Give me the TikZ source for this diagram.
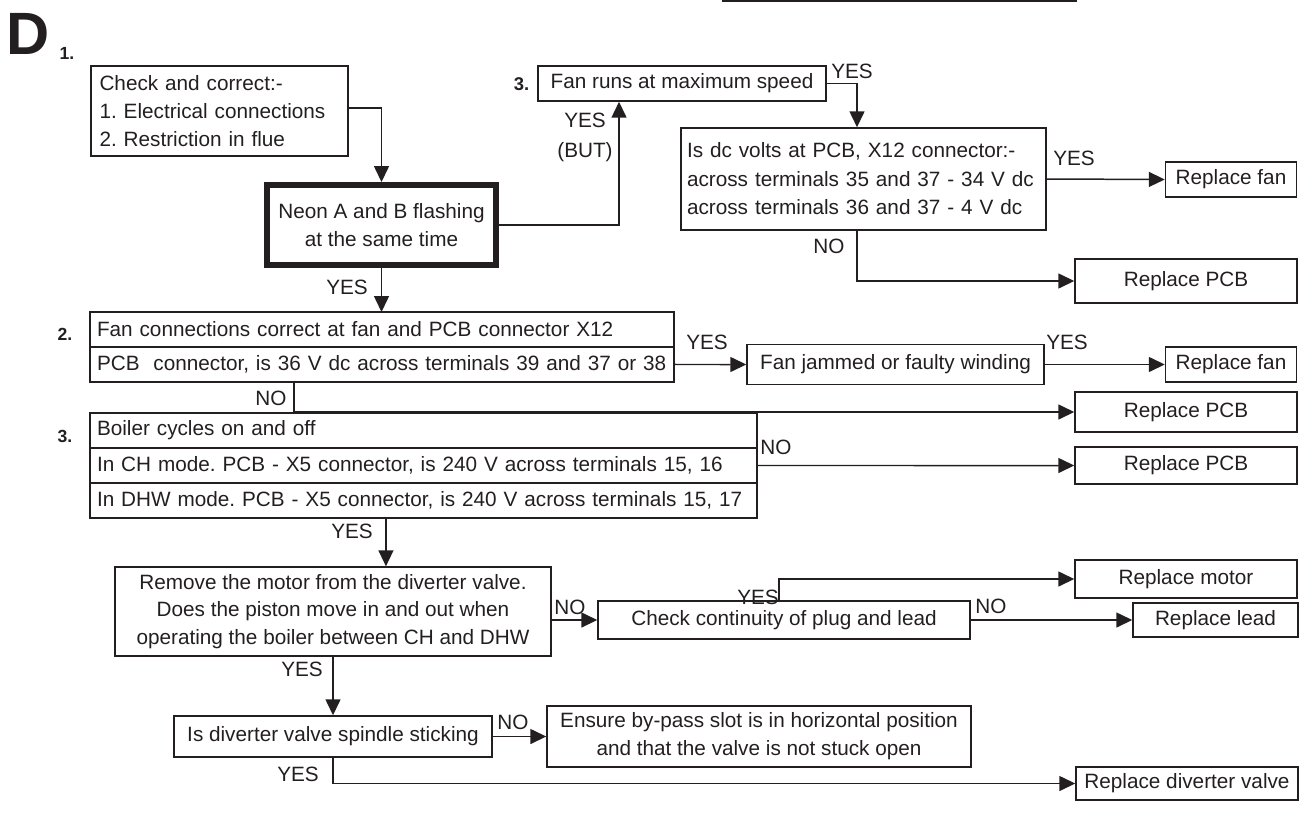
\documentclass[tikz,border=0pt]{standalone}
\usepackage{fontspec}
\setmainfont{Liberation Sans}
\usepackage{tikz}
\usetikzlibrary{
  arrows.meta,
  positioning
}
\definecolor{flowInk}{RGB}{35,31,32}
\newcommand{\flowText}{\frenchspacing\fontsize{11.8}{16}\selectfont}
\tikzset{
  flowBox/.style={
    draw=flowInk,
    line width=0.85pt,
    inner sep=0pt,
    align=center,
    text=flowInk,
    font=\flowText
  },
  flowRow/.style={
    flowBox,
    align=left,
    text width=#1,
    inner xsep=0.14cm,
    minimum height=0.7cm,
    outer sep=0pt
  },
  flowNeon/.style={
    flowBox,
    line width=3.4pt,
    minimum width=4.58cm,
    minimum height=1.6cm
  },
  flowArrow/.style={
    -{Triangle[length=0.32cm,width=0.3cm]},
    line width=0.85pt,
    draw=flowInk
  },
  flowTag/.style={
    inner sep=0pt,
    text=flowInk,
    font=\flowText
  },
  flowNum/.style={
    inner sep=0pt,
    text=flowInk,
    font=\bfseries\fontsize{10}{12}\selectfont
  }
}

\begin{document}
\begin{tikzpicture}[x=0.02cm, y=-0.02cm]
  \useasboundingbox (0,0) rectangle (1301,832);
  \draw[line width=0.85pt, flowInk] (722,1) -- (1077,1);

  \node[flowTag, font=\bfseries\fontsize{34}{34}\selectfont] (secD) at (28,33.5) {D};
  \node[flowNum] (numOne) at (67,53.5) {1.};

  % part 1
  \node[flowBox, align=left, text width=4.8cm, inner xsep=0.17cm,
    minimum height=1.8cm, font=\frenchspacing\fontsize{11.8}{15.9}\selectfont]
    (chkConn) at (219.5,111)
    {Check and correct:-\\1. Electrical connections\\2. Restriction in flue};
  \node[flowNeon] (neonAB) at (381.5,225) {Neon A and B flashing\\at the same time};
  \node[flowBox, minimum width=5.76cm, minimum height=0.7cm]
    (fanMax) at (682,83.5) {Fan runs at maximum speed};
  \node[flowNum, font=\bfseries\fontsize{10.5}{12}\selectfont] (numFan) at (521.5,84) {3.};
  \node[flowBox, align=left, text width=7.06cm, inner xsep=0.12cm,
    minimum height=2.04cm, font=\frenchspacing\fontsize{11.8}{16.2}\selectfont]
    (dcVolts) at (863.5,179)
    {Is dc volts at PCB, X12 connector:-\\across terminals 35 and 37 - 34 V dc\\across terminals 36 and 37 - 4 V dc};
  \node[flowBox, minimum width=2.62cm, minimum height=0.7cm]
    (fanNewA) at (1231,179.5) {Replace fan};
  \node[flowBox, minimum width=4.44cm, minimum height=0.88cm]
    (pcbNewA) at (1186,281) {Replace PCB};

  \draw[flowArrow] ([yshift=0.06cm]chkConn.east) -| (neonAB.north);
  \draw[flowArrow] (neonAB.east) -| ([xshift=-1.26cm]fanMax.south);
  \draw[flowArrow] (fanMax.east) -| ([xshift=-0.13cm]dcVolts.north);
  \draw[flowArrow] (dcVolts.east) -- (fanNewA.west);
  \draw[flowArrow] ([xshift=-0.13cm]dcVolts.south) |- (pcbNewA.west);

  \node[flowTag, align=center, font=\fontsize{11.8}{17}\selectfont] (tagBut) at (585,137) {YES\\(BUT)};
  \node[flowTag] (tagFanYes) at (852,71) {YES};
  \node[flowTag] (tagDcYes) at (1074,158) {YES};
  \node[flowTag] (tagDcNo) at (829,246) {NO};
  \node[flowTag] (tagNeonYes) at (347,287) {YES};

  % part 2
  \node[flowNum] (numTwo) at (65,334) {2.};
  \node[flowRow=11.4cm, anchor=north west]
    (fanConn) at (90,312) {Fan connections correct at fan and PCB connector X12};
  \node[flowRow=11.4cm, below=0pt of fanConn]
    (pcbVolt) {PCB~ connector, is 36 V dc across terminals 39 and 37 or 38};
  \node[flowBox, minimum width=5.94cm, minimum height=0.8cm]
    (fanJam) at (895.5,364.5) {Fan jammed or faulty winding};
  \node[flowBox, minimum width=2.62cm, minimum height=0.7cm]
    (fanNewB) at (1231,364.5) {Replace fan};
  \node[flowBox, minimum width=4.44cm, minimum height=0.8cm]
    (pcbNewB) at (1186,412) {Replace PCB};

  \draw[flowArrow] (neonAB.south) -- (neonAB.south |- fanConn.north);
  \draw[flowArrow] (pcbVolt.east) -- (fanJam.west);
  \draw[flowArrow] (fanJam.east) -- (fanNewB.west);
  \draw[flowArrow] ([xshift=-1.76cm]pcbVolt.south) |- (pcbNewB.west);

  \node[flowTag] (tagJamYes) at (707,342) {YES};
  \node[flowTag] (tagFanYesB) at (1067,342) {YES};
  \node[flowTag] (tagPcbNo) at (271,398) {NO};

  % part 3
  \node[flowNum] (numThree) at (65,436) {3.};
  \node[flowRow=13.06cm, anchor=north west]
    (boilCyc) at (90,413) {Boiler cycles on and off};
  \node[flowRow=13.06cm, below=0pt of boilCyc]
    (chMode) {In CH mode. PCB - X5 connector, is 240 V across terminals 15, 16};
  \node[flowRow=13.06cm, below=0pt of chMode]
    (dhwMode) {In DHW mode. PCB - X5 connector, is 240 V across terminals 15, 17};
  \node[flowBox, minimum width=4.44cm, minimum height=0.74cm]
    (pcbNewC) at (1186,465.5) {Replace PCB};
  \draw[flowArrow] (chMode.east) -- (pcbNewC.west);

  \node[flowBox, minimum width=8.72cm, minimum height=1.78cm,
    font=\frenchspacing\fontsize{11.8}{15.5}\selectfont]
    (motorOut) at (333,611.5)
    {Remove the motor from the diverter valve.\\Does the piston move in and out when\\operating the boiler between CH and DHW};
  \coordinate (motorIn) at ([xshift=-0.75cm]dhwMode.south);
  \draw[flowArrow] (motorIn) -- (motorIn |- motorOut.north);

  \node[flowBox, minimum width=7.44cm, minimum height=0.76cm]
    (plugLead) at (784,620) {Check continuity of plug and lead};
  \node[flowBox, minimum width=4.44cm, minimum height=0.76cm]
    (motorNew) at (1186,579) {Replace motor};
  \node[flowBox, minimum width=3.3cm, minimum height=0.68cm]
    (leadNew) at (1215.5,620) {Replace lead};
  \draw[flowArrow] (motorOut.east |- plugLead.west) -- (plugLead.west);
  \draw[flowArrow] ([xshift=-0.1cm]plugLead.north) |- (motorNew.west);
  \draw[flowArrow] (plugLead.east) -- (leadNew.west);

  \node[flowBox, minimum width=6.36cm, minimum height=0.82cm]
    (spindle) at (333,736.5) {Is diverter valve spindle sticking};
  \node[flowBox, minimum width=8.48cm, minimum height=1.22cm]
    (bypass) at (759,736.5)
    {Ensure by-pass slot is in horizontal position\\and that the valve is not stuck open};
  \node[flowBox, minimum width=4.44cm, minimum height=0.66cm]
    (valveNew) at (1187,783.5) {Replace diverter valve};
  \draw[flowArrow] (motorOut.south) -- (motorOut.south |- spindle.north);
  \draw[flowArrow] (spindle.east) -- (bypass.west);
  \draw[flowArrow] (spindle.south) |- (valveNew.west);

  \node[flowTag] (tagChNo) at (776,447) {NO};
  \node[flowTag] (tagDhwYes) at (352,531) {YES};
  \node[flowTag] (tagMotorNo) at (570,607) {NO};
  \node[flowTag] (tagPlugYes) at (758,597) {YES};
  \node[flowTag] (tagPlugNo) at (991,606) {NO};
  \node[flowTag] (tagMotorYes) at (302,669) {YES};
  \node[flowTag] (tagSpinNo) at (513,722) {NO};
  \node[flowTag] (tagSpinYes) at (298,774) {YES};
\end{tikzpicture}
\end{document}
